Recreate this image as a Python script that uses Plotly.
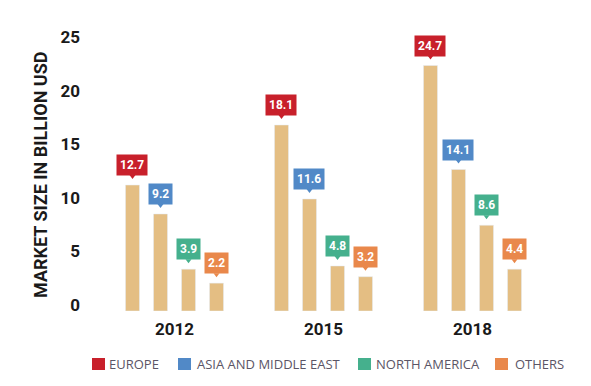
import plotly.graph_objects as go

years = ["2012", "2015", "2018"]
series = ["EUROPE", "ASIA AND MIDDLE EAST", "NORTH AMERICA", "OTHERS"]
# label values shown in the callouts
labels = {
    "EUROPE": [12.7, 18.1, 24.7],
    "ASIA AND MIDDLE EAST": [9.2, 11.6, 14.1],
    "NORTH AMERICA": [3.9, 4.8, 8.6],
    "OTHERS": [2.2, 3.2, 4.4],
}
# bar heights as drawn in the picture
heights = {
    "EUROPE": [11.75, 17.35, 22.9],
    "ASIA AND MIDDLE EAST": [9.05, 10.45, 13.2],
    "NORTH AMERICA": [3.9, 4.2, 8.0],
    "OTHERS": [2.6, 3.2, 3.9],
}
colors = ["#C8202B", "#5189C7", "#45B08D", "#E9884B"]
bar_color = "#E4BE83"
y_ticks = [0, 5, 10, 15, 20, 25]

W, H = 591, 386
L, R, T, B = 100, 44, 30, 75
PW, PH = W - L - R, H - T - B
SLOT = PW / 3 * (1 - 0.248) / 4


def px(xp, yp):
    return (xp - L) / PW, (H - B - yp) / PH


fig = go.Figure()
for s in series:
    fig.add_trace(go.Bar(x=[0, 1, 2], y=heights[s], name=s, marker_color=bar_color,
                         showlegend=False, hoverinfo="skip"))

annotations = []
shapes = []
for j, s in enumerate(series):
    dx = (j - 1.5) * SLOT
    for i in range(3):
        annotations.append(dict(
            x=i, y=heights[s][i], xref="x", yref="y", text=f"<b>{labels[s][i]}</b>",
            showarrow=False, xshift=dx, yshift=9, yanchor="bottom",
            bgcolor=colors[j], borderpad=3,
            font=dict(family="Roboto", size=12, color="white")))
        shapes.append(dict(
            type="path", xref="x", yref="y", xsizemode="pixel", ysizemode="pixel",
            xanchor=i, yanchor=heights[s][i],
            path=f"M {dx-3},10 L {dx+3},10 L {dx},6 Z",
            fillcolor=colors[j], line=dict(width=0)))

# y-axis title
xa, ya = px(40, 175)
annotations.append(dict(x=xa, y=ya, xref="paper", yref="paper", textangle=-90,
                        xanchor="center", yanchor="middle",
                        text="<b>MARKET SIZE IN BILLION USD</b>", showarrow=False,
                        font=dict(family="Roboto", size=18, color="#1a1a1a")))

# legend
leg_sq = [92, 178, 358, 495]
leg_tx = [107, 195, 374, 513]
for j, s in enumerate(series):
    x0, y0 = px(leg_sq[j], 358)
    x1, y1 = px(leg_sq[j] + 13, 370)
    shapes.append(dict(type="rect", xref="paper", yref="paper", x0=x0, x1=x1, y0=y0, y1=y1,
                       fillcolor=colors[j], line=dict(width=0)))
    tx, ty = px(leg_tx[j], 364)
    annotations.append(dict(x=tx, y=ty, xref="paper", yref="paper", text=s, showarrow=False,
                            xanchor="left", yanchor="middle",
                            font=dict(family="Open Sans", size=13, color="#5b5566")))

fig.update_layout(
    width=W, height=H, margin=dict(l=L, r=R, t=T, b=B),
    plot_bgcolor="white", paper_bgcolor="white",
    barmode="group", bargap=0.248, bargroupgap=0.5,
    annotations=annotations, shapes=shapes, showlegend=False,
    xaxis=dict(range=[-0.5, 2.5], tickvals=[0, 1, 2], ticktext=[f"<b>{y}</b>" for y in years],
               showgrid=False, zeroline=False, showline=False, ticks="outside", ticklen=3,
               tickcolor="rgba(0,0,0,0)", automargin=False,
               tickfont=dict(family="Roboto", size=17, color="#1a1a1a")),
    yaxis=dict(range=[0, PH / 10.72], tickvals=y_ticks, ticktext=[f"<b>{v}</b>" for v in y_ticks],
               showgrid=False, zeroline=False, showline=False, ticks="", automargin=False,
               ticklabelstandoff=19, ticklabelshift=-6,
               tickfont=dict(family="Roboto", size=17, color="#1a1a1a")),
)

fig.write_html("out.html", config={"displayModeBar": False},
               post_script="document.body.style.margin='0';")
